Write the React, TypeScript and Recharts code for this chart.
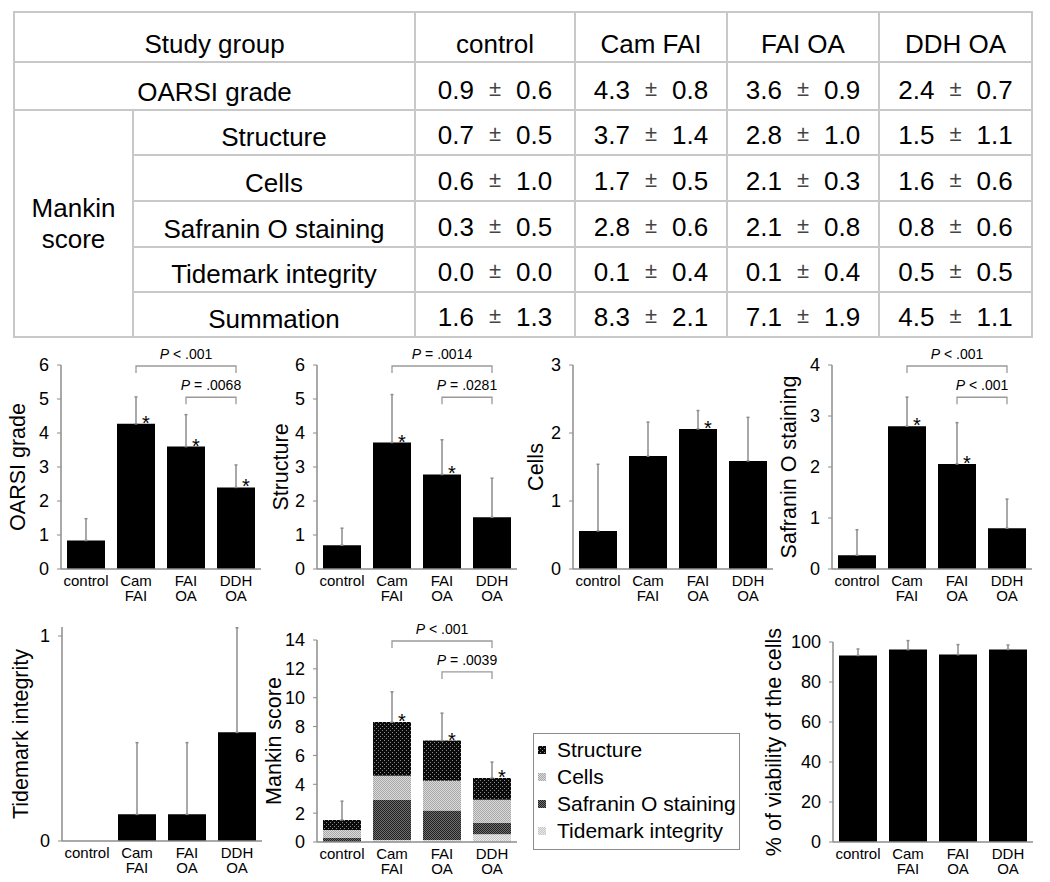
import React from "react";
import { BarChart, Bar, XAxis, YAxis, ErrorBar, LabelList, ReferenceLine, Legend } from "recharts";

const FONT = "'Liberation Sans', Arial, Helvetica, sans-serif";
const AXIS = "#8c8c8c";

const groups = ["control", "Cam FAI", "FAI OA", "DDH OA"];

// summary table (text as printed)
const oarsiRow = ["0.9 ± 0.6", "4.3 ± 0.8", "3.6 ± 0.9", "2.4 ± 0.7"];
const mankinLabels = ["Structure", "Cells", "Safranin O staining", "Tidemark integrity", "Summation"];
const structureRow = ["0.7 ± 0.5", "3.7 ± 1.4", "2.8 ± 1.0", "1.5 ± 1.1"];
const cellsRow = ["0.6 ± 1.0", "1.7 ± 0.5", "2.1 ± 0.3", "1.6 ± 0.6"];
const safraninRow = ["0.3 ± 0.5", "2.8 ± 0.6", "2.1 ± 0.8", "0.8 ± 0.6"];
const tidemarkRow = ["0.0 ± 0.0", "0.1 ± 0.4", "0.1 ± 0.4", "0.5 ± 0.5"];
const summationRow = ["1.6 ± 1.3", "8.3 ± 2.1", "7.1 ± 1.9", "4.5 ± 1.1"];
const mankinRows = [structureRow, cellsRow, safraninRow, tidemarkRow, summationRow];

// bar values
const oarsiMean = [0.84, 4.27, 3.6, 2.4];
const oarsiSd = [0.64, 0.79, 0.94, 0.66];
const oarsiStar = [false, true, true, true];

const structureMean = [0.7, 3.72, 2.78, 1.52];
const structureSd = [0.5, 1.41, 1.02, 1.15];
const structureStar = [false, true, true, false];

const cellsMean = [0.56, 1.66, 2.06, 1.59];
const cellsSd = [0.98, 0.5, 0.27, 0.64];
const cellsStar = [false, false, true, false];

const safraninMean = [0.27, 2.8, 2.06, 0.8];
const safraninSd = [0.5, 0.57, 0.81, 0.57];
const safraninStar = [false, true, true, false];

const tidemarkMean = [0, 0.13, 0.13, 0.53];
const tidemarkSd = [0, 0.35, 0.35, 0.51];

const mankinSd = [1.3, 2.1, 1.9, 1.1];
const mankinStar = [false, true, true, true];

const viabilityMean = [93.3, 96.2, 93.7, 96.3];
const viabilitySd = [3.2, 4.5, 5.0, 2.2];
const noStar = [false, false, false, false];

type Bracket = { from: string; to: string; text: string; level: number };

const oarsiBrackets: Bracket[] = [
  { from: "Cam FAI", to: "DDH OA", text: "< .001", level: 0 },
  { from: "FAI OA", to: "DDH OA", text: "= .0068", level: 1 },
];
const structureBrackets: Bracket[] = [
  { from: "Cam FAI", to: "DDH OA", text: "= .0014", level: 0 },
  { from: "FAI OA", to: "DDH OA", text: "= .0281", level: 1 },
];
const safraninBrackets: Bracket[] = [
  { from: "Cam FAI", to: "DDH OA", text: "< .001", level: 0 },
  { from: "FAI OA", to: "DDH OA", text: "< .001", level: 1 },
];
const mankinBrackets: Bracket[] = [
  { from: "Cam FAI", to: "DDH OA", text: "< .001", level: 0 },
  { from: "FAI OA", to: "DDH OA", text: "= .0039", level: 1 },
];
const bracketLevels = [0.995, 0.842];

const legendItems = [
  ["Structure", "pat-structure"],
  ["Cells", "pat-cells"],
  ["Safranin O staining", "pat-safranin"],
  ["Tidemark integrity", "pat-tidemark"],
];

function rows(means: number[], sds: number[], stars: boolean[]) {
  return groups.map((name, i) => ({
    name,
    value: means[i],
    err: [0, sds[i]],
    star: stars[i] ? "*" : "",
  }));
}

function CategoryTick({ x, y, payload }: any) {
  const lines = String(payload.value).split(" ");
  return (
    <text x={x} y={y} textAnchor="middle" fontSize={15} fill="#000">
      {lines.map((l, i) => (
        <tspan key={i} x={x} dy={i === 0 ? 17 : 15}>
          {l}
        </tspan>
      ))}
    </text>
  );
}

function StarLabel(props: any) {
  const { x, y, width, value } = props;
  if (!value) return null;
  return (
    <text x={x + width / 2 + 10} y={y + 6} fontSize={20} textAnchor="middle" fill="#000">
      *
    </text>
  );
}

const bracketShape = (text: string) => (p: any) => {
  const { x1, x2, y1 } = p;
  return (
    <g>
      <path
        d={`M${x1},${y1 + 7}V${y1}H${x2}V${y1 + 7}`}
        fill="none"
        stroke="#9a9a9a"
        strokeWidth={1.3}
      />
      <text x={(x1 + x2) / 2} y={y1 - 7} textAnchor="middle" fontSize={14} fill="#000">
        <tspan fontStyle="italic">P</tspan>
        {" " + text}
      </text>
    </g>
  );
};

function renderBrackets(brackets: Bracket[], max: number) {
  return brackets.map((b, i) => {
    const y = max * bracketLevels[b.level];
    return (
      <ReferenceLine
        key={i}
        segment={[
          { x: b.from, y },
          { x: b.to, y },
        ]}
        position="middle"
        shape={bracketShape(b.text)}
      />
    );
  });
}

function yAxisProps(axisWidth: number, domain: number[], ticks: number[], label: string, offset: number) {
  return {
    width: axisWidth,
    domain,
    ticks,
    allowDataOverflow: true,
    tickSize: 4,
    tickMargin: 8,
    tick: { fontSize: 18, fill: "#000" },
    tickLine: { stroke: AXIS },
    axisLine: { stroke: AXIS, strokeWidth: 1.5 },
    label: {
      value: label,
      angle: -90,
      position: "insideLeft",
      offset,
      fontSize: 21.5,
      fill: "#000",
      style: { textAnchor: "middle", fontSize: 21.5, fill: "#000" },
    },
  } as any;
}

function Panel({ left, top, width, height, margin, axisWidth, labelOffset, yLabel, domain, ticks, data, brackets = [] }: any) {
  return (
    <div style={{ position: "absolute", left, top }}>
      <BarChart width={width} height={height} data={data} margin={margin} barSize={38}>
        <XAxis
          dataKey="name"
          height={36}
          interval={0}
          tick={<CategoryTick />}
          tickLine={false}
          tickSize={0}
          tickMargin={0}
          axisLine={{ stroke: AXIS, strokeWidth: 1.5 }}
        />
        <YAxis {...yAxisProps(axisWidth, domain, ticks, yLabel, labelOffset)} />
        <Bar dataKey="value" fill="#000" isAnimationActive={false}>
          <ErrorBar dataKey="err" direction="y" width={1.5} stroke={AXIS} strokeWidth={1.5} isAnimationActive={false} />
          <LabelList dataKey="star" content={<StarLabel />} />
        </Bar>
        {renderBrackets(brackets, domain[1])}
      </BarChart>
    </div>
  );
}

function MankinLegend() {
  return (
    <div
      style={{
        width: 207,
        height: 117,
        boxSizing: "border-box",
        border: "1px solid #8c8c8c",
        background: "#fff",
        paddingTop: 2,
        fontSize: 21,
        color: "#000",
      }}
    >
      {legendItems.map(([label, id]) => (
        <div key={id} style={{ display: "flex", alignItems: "center", height: 27, whiteSpace: "nowrap" }}>
          <svg width={8} height={8} style={{ marginLeft: 4, marginRight: 11, flex: "none" }}>
            <rect width={8} height={8} fill={`url(#${id})`} />
          </svg>
          {label}
        </div>
      ))}
    </div>
  );
}

function MankinPanel() {
  const data = groups.map((name, i) => ({
    name,
    tidemark: tidemarkMean[i],
    safranin: safraninMean[i],
    cells: cellsMean[i],
    structure: structureMean[i],
    err: [0, mankinSd[i]],
    star: mankinStar[i] ? "*" : "",
  }));
  return (
    <div style={{ position: "absolute", left: 256, top: 600 }}>
      <BarChart width={500} height={282} data={data} margin={{ top: 40, right: 239, left: 0, bottom: 4 }} barSize={38}>
        <defs>
          <pattern id="pat-structure" width={4} height={4} patternUnits="userSpaceOnUse">
            <rect width={4} height={4} fill="#0a0a0a" />
            <rect x={0} y={0} width={1} height={1} fill="#8a8a8a" />
            <rect x={2} y={2} width={1} height={1} fill="#8a8a8a" />
          </pattern>
          <pattern id="pat-cells" width={2} height={2} patternUnits="userSpaceOnUse">
            <rect width={2} height={2} fill="#dadada" />
            <rect x={0} y={0} width={1} height={1} fill="#a8a8a8" />
            <rect x={1} y={1} width={1} height={1} fill="#a8a8a8" />
          </pattern>
          <pattern id="pat-safranin" width={2} height={2} patternUnits="userSpaceOnUse">
            <rect width={2} height={2} fill="#6e6e6e" />
            <rect x={0} y={0} width={1} height={1} fill="#222" />
            <rect x={1} y={1} width={1} height={1} fill="#222" />
          </pattern>
          <pattern id="pat-tidemark" width={2} height={2} patternUnits="userSpaceOnUse">
            <rect width={2} height={2} fill="#ececec" />
            <rect x={0} y={0} width={1} height={1} fill="#c4c4c4" />
            <rect x={1} y={1} width={1} height={1} fill="#c4c4c4" />
          </pattern>
        </defs>
        <XAxis
          dataKey="name"
          height={36}
          interval={0}
          tick={<CategoryTick />}
          tickLine={false}
          tickSize={0}
          tickMargin={0}
          axisLine={{ stroke: AXIS, strokeWidth: 1.5 }}
        />
        <YAxis {...yAxisProps(61, [0, 14], [0, 2, 4, 6, 8, 10, 12, 14], "Mankin score", 17)} />
        <Legend
          layout="vertical"
          align="center"
          verticalAlign="middle"
          wrapperStyle={{ left: 277, top: 133, width: 207, height: 117 }}
          content={() => <MankinLegend />}
        />
        <Bar dataKey="tidemark" stackId="m" fill="url(#pat-tidemark)" isAnimationActive={false} />
        <Bar dataKey="safranin" stackId="m" fill="url(#pat-safranin)" isAnimationActive={false} />
        <Bar dataKey="cells" stackId="m" fill="url(#pat-cells)" isAnimationActive={false} />
        <Bar dataKey="structure" stackId="m" fill="url(#pat-structure)" isAnimationActive={false}>
          <ErrorBar dataKey="err" direction="y" width={1.5} stroke={AXIS} strokeWidth={1.5} isAnimationActive={false} />
          <LabelList dataKey="star" content={<StarLabel />} />
        </Bar>
        {renderBrackets(mankinBrackets, 14)}
      </BarChart>
    </div>
  );
}

function PlusMinus({ v }: { v: string }) {
  const [m, s] = v.split("±").map((t) => t.trim());
  return (
    <>
      {m}
      <span style={{ margin: "0 15px", color: "#444", fontSize: 22, position: "relative", top: -3 }}>±</span>
      {s}
    </>
  );
}

const colWidths = [119, 282, 160, 152, 152, 153];
const rowHeights = [50, 48, 45, 46, 46, 45, 45];

function SummaryTable() {
  const cell: React.CSSProperties = {
    border: "2px solid #c8c8c8",
    padding: "0 0 2px 0",
    textAlign: "center",
    verticalAlign: "bottom",
    lineHeight: "30px",
    whiteSpace: "nowrap",
  };
  return (
    <table
      style={{
        position: "absolute",
        left: 13,
        top: 11,
        width: 1018,
        borderCollapse: "collapse",
        tableLayout: "fixed",
        fontSize: 26,
        color: "#000",
      }}
    >
      <colgroup>
        {colWidths.map((w, i) => (
          <col key={i} style={{ width: w }} />
        ))}
      </colgroup>
      <tbody>
        <tr style={{ height: rowHeights[0] }}>
          <td colSpan={2} style={cell}>Study group</td>
          {groups.map((g) => (
            <td key={g} style={cell}>{g}</td>
          ))}
        </tr>
        <tr style={{ height: rowHeights[1] }}>
          <td colSpan={2} style={cell}>OARSI grade</td>
          {oarsiRow.map((v, i) => (
            <td key={i} style={cell}>
              <PlusMinus v={v} />
            </td>
          ))}
        </tr>
        {mankinLabels.map((lab, r) => (
          <tr key={lab} style={{ height: rowHeights[r + 2] }}>
            {r === 0 && (
              <td rowSpan={5} style={{ ...cell, verticalAlign: "middle", lineHeight: "31px", padding: 0 }}>
                Mankin
                <br />
                score
              </td>
            )}
            <td style={cell}>{lab}</td>
            {mankinRows[r].map((v, i) => (
              <td key={i} style={cell}>
                <PlusMinus v={v} />
              </td>
            ))}
          </tr>
        ))}
      </tbody>
    </table>
  );
}

export default function App() {
  return (
    <div
      style={{
        position: "absolute",
        left: 0,
        top: 0,
        width: 1050,
        height: 882,
        background: "#fff",
        fontFamily: FONT,
        overflow: "hidden",
      }}
    >
      <SummaryTable />
      <Panel
        left={0}
        top={330}
        width={265}
        height={280}
        margin={{ top: 35, right: 4, left: 0, bottom: 5 }}
        axisWidth={61}
        labelOffset={17}
        yLabel="OARSI grade"
        domain={[0, 6]}
        ticks={[0, 1, 2, 3, 4, 5, 6]}
        data={rows(oarsiMean, oarsiSd, oarsiStar)}
        brackets={oarsiBrackets}
      />
      <Panel
        left={256}
        top={330}
        width={265}
        height={280}
        margin={{ top: 35, right: 4, left: 0, bottom: 5 }}
        axisWidth={61}
        labelOffset={24}
        yLabel="Structure"
        domain={[0, 6]}
        ticks={[0, 1, 2, 3, 4, 5, 6]}
        data={rows(structureMean, structureSd, structureStar)}
        brackets={structureBrackets}
      />
      <Panel
        left={512}
        top={330}
        width={265}
        height={280}
        margin={{ top: 35, right: 4, left: 0, bottom: 5 }}
        axisWidth={61}
        labelOffset={23}
        yLabel="Cells"
        domain={[0, 3]}
        ticks={[0, 1, 2, 3]}
        data={rows(cellsMean, cellsSd, cellsStar)}
      />
      <Panel
        left={771}
        top={330}
        width={265}
        height={280}
        margin={{ top: 35, right: 4, left: 0, bottom: 5 }}
        axisWidth={61}
        labelOffset={17}
        yLabel="Safranin O staining"
        domain={[0, 4]}
        ticks={[0, 1, 2, 3, 4]}
        data={rows(safraninMean, safraninSd, safraninStar)}
        brackets={safraninBrackets}
      />
      <Panel
        left={0}
        top={600}
        width={265}
        height={282}
        margin={{ top: 27, right: 3, left: 0, bottom: 5 }}
        axisWidth={62}
        labelOffset={20}
        yLabel="Tidemark integrity"
        domain={[0, 1.044]}
        ticks={[0, 1]}
        data={rows(tidemarkMean, tidemarkSd, noStar)}
      />
      <MankinPanel />
      <Panel
        left={758}
        top={600}
        width={278}
        height={282}
        margin={{ top: 42, right: 3, left: 0, bottom: 4 }}
        axisWidth={75}
        labelOffset={15}
        yLabel="% of viability of the cells"
        domain={[0, 100]}
        ticks={[0, 20, 40, 60, 80, 100]}
        data={rows(viabilityMean, viabilitySd, noStar)}
      />
    </div>
  );
}
